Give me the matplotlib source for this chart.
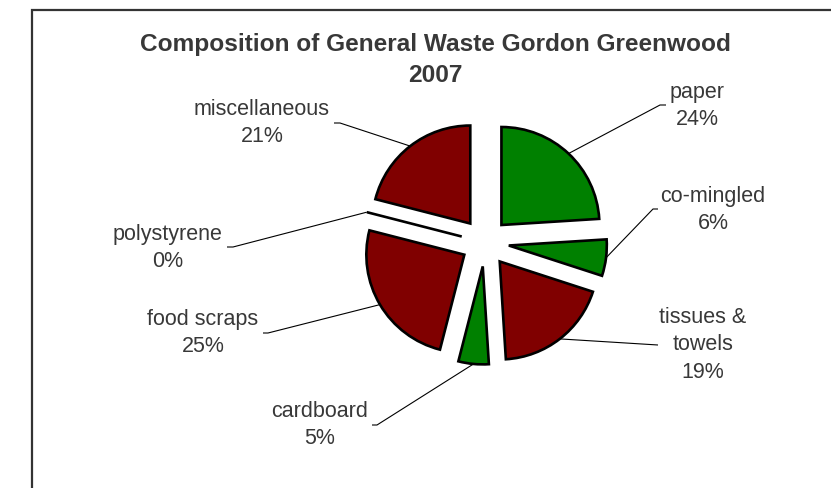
import numpy as np
import matplotlib
matplotlib.use("Agg")
import matplotlib.pyplot as plt
from matplotlib.patches import Rectangle

# ---- data ----
categories = ["paper", "co-mingled", "tissues &\ntowels", "cardboard",
              "food scraps", "polystyrene", "miscellaneous"]
percent = [24, 6, 19, 5, 25, 0, 21]
colors = ["#008000", "#008000", "#800000", "#008000", "#800000", "#800000", "#800000"]
title_lines = ["Composition of General Waste Gordon Greenwood", "2007"]

# ---- layout (pixel space, y measured from top) ----
W, H = 831, 488
CX, CY, R = 485, 242.5, 98
EXPLODE = 24  # data units (pixels)
# label text centres and leader elbow / end points
label_xy = [(697, 106), (713, 210), (703, 345), (320, 425),
            (203, 333), (168, 248), (262, 123)]
elbow_xy = [(660, 105), (653, 209), (658, 345), (377, 425),
            (268, 333), (233, 247), (340, 123)]
end_dx = [6, 5, 0, -5, -5, -6, -6]
title_y = [45, 75]

plt.rcParams['font.family'] = ['Liberation Sans', 'DejaVu Sans']

fig = plt.figure(figsize=(W / 100, H / 100), dpi=100)
ax = fig.add_axes([0, 0, 1, 1])


def P(x, y):
    return x, H - y


wedges, _ = ax.pie(percent, explode=[EXPLODE] * len(percent), colors=colors,
                   startangle=90, counterclock=False, center=P(CX, CY), radius=R,
                   wedgeprops=dict(edgecolor="black", linewidth=1.9,
                                   joinstyle="miter"))
ax.set_xlim(0, W)
ax.set_ylim(0, H)
ax.set_aspect("equal")
ax.axis("off")

txtcol = "#383838"
for w, cat, pct, (lx, ly), (ex, ey), dx in zip(wedges, categories, percent,
                                               label_xy, elbow_xy, end_dx):
    mid = np.deg2rad((w.theta1 + w.theta2) / 2)
    ccx, ccy = w.center
    ax_x = ccx + R * np.cos(mid)
    ax_y = ccy + R * np.sin(mid)
    exd, eyd = P(ex, ey)
    ax.plot([ax_x, exd, exd + dx], [ax_y, eyd, eyd], color="black", lw=0.8,
            solid_capstyle="butt", zorder=1)
    ax.text(*P(lx, ly), f"{cat}\n{pct}%", ha="center", va="center",
            fontsize=15.5, color=txtcol, linespacing=1.4)

for line, ty in zip(title_lines, title_y):
    ax.text(*P(435, ty), line, ha="center", va="center", fontsize=17.6,
            fontweight="bold", color=txtcol)

ax.add_patch(Rectangle(P(32, 600), 1000, 590, fill=False, edgecolor="#333333",
                       lw=1.6, clip_on=False))

fig.savefig("out.png", dpi=100)
